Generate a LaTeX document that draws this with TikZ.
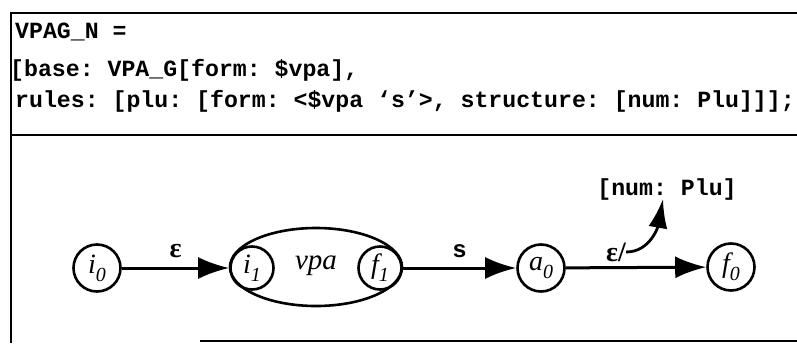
\documentclass[tikz,border=0pt]{standalone}
\usepackage{fontspec}
\setmainfont{Liberation Serif}
\setmonofont{Liberation Mono}
\usetikzlibrary{shapes.geometric,arrows.meta}
\newcommand{\stlbl}[2]{#1\raisebox{-0.28em}{\fontsize{20}{22}\selectfont #2}}
\begin{document}
\begin{tikzpicture}[x=1pt,y=-1pt,
  frame/.style={line width=2.8pt},
  code/.style={anchor=base west,inner sep=0pt,font=\fontsize{23.2}{28}\selectfont\ttfamily\bfseries},
  state/.style={circle,draw,line width=2.6pt,minimum size=47pt,inner sep=0pt,font=\fontsize{28}{32}\selectfont\itshape},
  small/.style={minimum size=43pt},
  arr/.style={line width=3pt,-{Latex[length=31pt,width=22pt]}},
  lbl/.style={inner sep=0pt,font=\fontsize{28}{32}\selectfont\bfseries}]
\useasboundingbox (0,0) rectangle (797,343);
% frame
\draw[frame] (11,343) -- (11,13) -- (797,13);
\draw[frame] (11,135) -- (797,135);
\draw[frame] (200,341) -- (797,341);
% code text
\node[code] (l1) at (15,38) {VPAG\_N =};
\node[code] (l2) at (10,76) {[base: VPA\_G[form: \$vpa],};
\node[code] (l3) at (15,107) {rules: [plu: [form: <\$vpa ‘s’>, structure: [num: Plu]]];};
% automaton
\node[state] (i0) at (97,268) {\stlbl{i}{0}};
\node[ellipse,draw,line width=2.6pt,minimum width=172pt,minimum height=78pt] (box) at (316,267) {};
\node[state,small] (i1) at (252,268) {\stlbl{i}{1}};
\node[font=\fontsize{29}{32}\selectfont\itshape] (vpa) at (316,266) {vpa};
\node[state,small] (f1) at (380,268) {\stlbl{f}{1}};
\node[state] (a0) at (541,268) {\stlbl{a}{0}};
\node[state] (f0) at (731,267) {\stlbl{f}{0}};
\draw[arr] (i0) -- node[lbl,above=9pt] {ε} (i1);
\draw[arr] (f1) -- node[lbl,above=9pt,font=\fontsize{24}{28}\selectfont\ttfamily\bfseries] {s} (a0);
\draw[arr] (a0) -- (f0);
\node[lbl] (eps) at (616,252) {ε/};
\node[code,anchor=base] (num) at (667,195) {[num: Plu]};
\draw[line width=2.8pt,-{Latex[length=29pt,width=19pt]}] (eps.east) to[out=0,in=-100] (663,199);
\end{tikzpicture}
\end{document}
